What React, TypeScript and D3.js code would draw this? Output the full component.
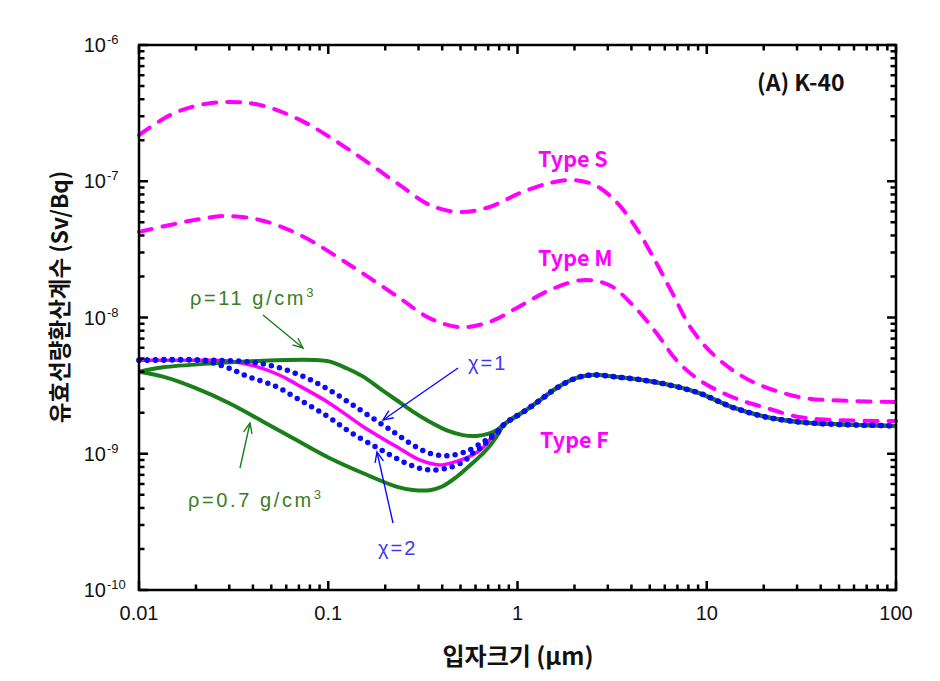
import React from "react";
import * as d3 from "d3";

// ---- Data (particle size µm, dose coefficient Sv/Bq) ----
const typeSX = [0.01, 0.0146, 0.021, 0.03, 0.0435, 0.0708, 0.13, 0.238, 0.343, 0.494, 0.711, 1.03, 1.48, 1.95, 2.55, 3.25, 4.14, 5.42, 6.58, 8.38, 11.2, 16.7, 30.7, 56.5, 100];
const typeSY = [2.18e-7, 3.06e-7, 3.63e-7, 3.82e-7, 3.63e-7, 2.82e-7, 1.69e-7, 9.4e-8, 6.7e-8, 5.94e-8, 6.47e-8, 8.2e-8, 9.7e-8, 1.02e-7, 9.4e-8, 7.3e-8, 4.77e-8, 2.51e-8, 1.51e-8, 8.1e-9, 5.13e-9, 3.48e-9, 2.61e-9, 2.44e-9, 2.4e-9];

const typeMX = [0.01, 0.0146, 0.021, 0.0284, 0.0435, 0.0708, 0.13, 0.238, 0.343, 0.494, 0.711, 1.03, 1.48, 2.2, 3.05, 4.05, 5.42, 6.9, 9.12, 13.6, 20.6, 30.8, 45.9, 100];
const typeMY = [4.25e-8, 4.78e-8, 5.28e-8, 5.56e-8, 5.2e-8, 4.04e-8, 2.43e-8, 1.39e-8, 9.9e-9, 8.5e-9, 9.27e-9, 1.21e-8, 1.59e-8, 1.88e-8, 1.73e-8, 1.24e-8, 7.7e-9, 4.88e-9, 3.48e-9, 2.61e-9, 2.17e-9, 1.86e-9, 1.77e-9, 1.74e-9];

// common part shared by Type F and its variants (large particles)
const tailX = [0.853, 1.11, 1.36, 1.61, 2.05, 2.49, 3.33, 4.57, 6.34, 9.12, 13.6, 20.6, 30.8, 45.9, 70, 100];
const tailY = [1.65e-9, 2.09e-9, 2.56e-9, 3.04e-9, 3.6e-9, 3.79e-9, 3.66e-9, 3.48e-9, 3.2e-9, 2.79e-9, 2.2e-9, 1.86e-9, 1.71e-9, 1.65e-9, 1.62e-9, 1.6e-9];

const typeFX = [0.01, 0.02, 0.03, 0.041, 0.0555, 0.0679, 0.102, 0.153, 0.229, 0.304, 0.388, 0.476, 0.579, 0.653, 0.711, 0.783];
const typeFY = [4.85e-9, 4.85e-9, 4.8e-9, 4.4e-9, 3.77e-9, 3.24e-9, 2.34e-9, 1.58e-9, 1.13e-9, 9.0e-10, 8.27e-10, 8.8e-10, 9.8e-10, 1.1e-9, 1.26e-9, 1.49e-9];

const rho11X = [0.01, 0.0134, 0.0247, 0.0453, 0.083, 0.102, 0.125, 0.153, 0.187, 0.229, 0.28, 0.343, 0.42, 0.514, 0.605, 0.711, 0.783];
const rho11Y = [4.0e-9, 4.31e-9, 4.61e-9, 4.82e-9, 4.88e-9, 4.74e-9, 4.24e-9, 3.68e-9, 3.02e-9, 2.48e-9, 2.04e-9, 1.72e-9, 1.49e-9, 1.37e-9, 1.35e-9, 1.41e-9, 1.5e-9];

const rho07X = [0.01, 0.0134, 0.0201, 0.0302, 0.0453, 0.0679, 0.102, 0.153, 0.229, 0.28, 0.343, 0.4, 0.476, 0.579, 0.686, 0.774];
const rho07Y = [4.0e-9, 3.68e-9, 3.02e-9, 2.34e-9, 1.72e-9, 1.26e-9, 9.27e-10, 7.19e-10, 5.74e-10, 5.42e-10, 5.4e-10, 5.75e-10, 6.75e-10, 8.55e-10, 1.07e-9, 1.33e-9];

const chi1X = [0.01, 0.025, 0.0385, 0.0523, 0.0723, 0.098, 0.135, 0.183, 0.229, 0.28, 0.343, 0.428, 0.536, 0.646, 0.711, 0.783];
const chi1Y = [4.85e-9, 4.85e-9, 4.71e-9, 4.36e-9, 3.74e-9, 3.02e-9, 2.28e-9, 1.72e-9, 1.4e-9, 1.16e-9, 1.01e-9, 9.68e-10, 1.04e-9, 1.2e-9, 1.31e-9, 1.45e-9];

const chi2X = [0.01, 0.021, 0.0284, 0.0378, 0.0523, 0.0708, 0.098, 0.132, 0.183, 0.229, 0.28, 0.343, 0.428, 0.525, 0.579, 0.646, 0.711, 0.783];
const chi2Y = [4.85e-9, 4.85e-9, 4.36e-9, 3.68e-9, 3.14e-9, 2.48e-9, 1.9e-9, 1.43e-9, 1.1e-9, 9.27e-10, 8.13e-10, 7.6e-10, 7.86e-10, 8.85e-10, 1.01e-9, 1.12e-9, 1.28e-9, 1.43e-9];

const xTicks = [0.01, 0.1, 1, 10, 100];
const xTickLabels = ["0.01", "0.1", "1", "10", "100"];
const yTicks = [1e-10, 1e-9, 1e-8, 1e-7, 1e-6];
const yTickExps = ["-10", "-9", "-8", "-7", "-6"];

const W = 940, H = 681;
const L = 139, R = 896, T = 45, B = 590;

const x = d3.scaleLog().domain([0.01, 100]).range([L, R]);
const y = d3.scaleLog().domain([1e-10, 1e-6]).range([B, T]);

const zip = (xs: number[], ys: number[]) => xs.map((v, i) => [v, ys[i]] as [number, number]);
const line = d3.line<[number, number]>().x(d => x(d[0])).y(d => y(d[1])).curve(d3.curveCatmullRom.alpha(0.5));

const MAGENTA = "#ff00ff";
const GREEN = "#1a7f1a";
const BLUE = "#0a0aff";
const GTEXT = "#3a7d1e";
const BTEXT = "#3a3af0";

function Arrow({ x1, y1, x2, y2, color }: { x1: number; y1: number; x2: number; y2: number; color: string }) {
  const a = Math.atan2(y2 - y1, x2 - x1);
  const len = 11, sp = 0.4;
  const p1 = [x2 - len * Math.cos(a - sp), y2 - len * Math.sin(a - sp)];
  const p2 = [x2 - len * Math.cos(a + sp), y2 - len * Math.sin(a + sp)];
  return (
    <g stroke={color} strokeWidth={1.4} fill="none">
      <line x1={x1} y1={y1} x2={x2} y2={y2} />
      <polyline points={`${p1[0]},${p1[1]} ${x2},${y2} ${p2[0]},${p2[1]}`} />
    </g>
  );
}

export default function App() {
  const minorX: number[] = [];
  for (let e = -2; e < 2; e++) for (let k = 2; k <= 9; k++) minorX.push(k * Math.pow(10, e));
  const minorY: number[] = [];
  for (let e = -10; e < -6; e++) for (let k = 2; k <= 9; k++) minorY.push(k * Math.pow(10, e));

  const sans = "'Liberation Sans', Arial, sans-serif";
  const kor = "'Noto Sans CJK KR', 'Noto Sans', sans-serif";

  const typeF = zip(typeFX, typeFY).concat(zip(tailX, tailY));
  const rho11 = zip(rho11X, rho11Y).concat(zip(tailX, tailY));
  const rho07 = zip(rho07X, rho07Y).concat(zip(tailX, tailY));
  const chi1 = zip(chi1X, chi1Y).concat(zip(tailX, tailY));
  const chi2 = zip(chi2X, chi2Y).concat(zip(tailX, tailY));

  return (
    <svg width={W} height={H} style={{ position: "absolute", left: 0, top: 0, background: "#fff" }}>
      <rect x={0} y={0} width={W} height={H} fill="#fff" />
      {/* curves */}
      <g fill="none">
        <path d={line(zip(typeSX, typeSY)) || ""} stroke={MAGENTA} strokeWidth={4} strokeDasharray="13 11" strokeLinecap="round" />
        <path d={line(zip(typeMX, typeMY)) || ""} stroke={MAGENTA} strokeWidth={4} strokeDasharray="13 11" strokeLinecap="round" />
        <path d={line(typeF) || ""} stroke={MAGENTA} strokeWidth={3.5} />
        <path d={line(rho11) || ""} stroke={GREEN} strokeWidth={4} />
        <path d={line(rho07) || ""} stroke={GREEN} strokeWidth={4} />
        <path d={line(chi1) || ""} stroke={BLUE} strokeWidth={5.5} strokeDasharray="0 8.3" strokeLinecap="round" />
        <path d={line(chi2) || ""} stroke={BLUE} strokeWidth={5.5} strokeDasharray="0 8.3" strokeLinecap="round" />
      </g>

      {/* frame and ticks */}
      <g stroke="#000" strokeWidth={2.5}>
        <rect x={L} y={T} width={R - L} height={B - T} fill="none" />
        {xTicks.map(t => (
          <g key={"xm" + t}>
            <line x1={x(t)} x2={x(t)} y1={B} y2={B - 9} />
            <line x1={x(t)} x2={x(t)} y1={T} y2={T + 9} />
          </g>
        ))}
        {minorX.map(t => (
          <g key={"xn" + t}>
            <line x1={x(t)} x2={x(t)} y1={B} y2={B - 5.5} />
            <line x1={x(t)} x2={x(t)} y1={T} y2={T + 5.5} />
          </g>
        ))}
        {yTicks.map(t => (
          <g key={"ym" + t}>
            <line x1={L} x2={L + 9} y1={y(t)} y2={y(t)} />
            <line x1={R} x2={R - 9} y1={y(t)} y2={y(t)} />
          </g>
        ))}
        {minorY.map(t => (
          <g key={"yn" + t}>
            <line x1={L} x2={L + 5.5} y1={y(t)} y2={y(t)} />
            <line x1={R} x2={R - 5.5} y1={y(t)} y2={y(t)} />
          </g>
        ))}
      </g>

      {/* tick labels */}
      <g fontFamily={sans} fontSize={20} fill="#111">
        {xTicks.map((t, i) => (
          <text key={"xl" + t} x={x(t)} y={620} textAnchor="middle">{xTickLabels[i]}</text>
        ))}
        {yTicks.map((t, i) => (
          <text key={"yl" + t} x={106} y={y(t) + 7} textAnchor="end">10</text>
        ))}
        {yTicks.map((t, i) => (
          <text key={"ye" + t} x={107} y={y(t) - 1} fontSize={13}>{yTickExps[i]}</text>
        ))}
      </g>

      {/* axis titles */}
      <text x={518} y={665} textAnchor="middle" fontFamily={kor} fontWeight="bold" fontSize={24} fill="#111">입자크기 (μm)</text>
      <text transform={`translate(68,297) rotate(-90)`} textAnchor="middle" fontFamily={kor} fontWeight="bold" fontSize={22.5} fill="#111">유효선량환산계수 (Sv/Bq)</text>

      {/* panel title */}
      <text x={757} y={91} fontFamily={kor} fontWeight="bold" fontSize={23} fill="#111">(A) K-40</text>

      {/* series labels */}
      <g fontFamily={kor} fontWeight="bold" fontSize={21.5} fill={MAGENTA}>
        <text x={538} y={167}>Type S</text>
        <text x={538} y={266}>Type M</text>
        <text x={540} y={448}>Type F</text>
      </g>

      {/* annotations */}
      <g fontFamily={sans} fontSize={20} fill={GTEXT} letterSpacing={2.6}>
        <text x={190} y={305}>ρ=11 g/cm<tspan dy={-8} fontSize={13}>3</tspan></text>
        <text x={188} y={507}>ρ=0.7 g/cm<tspan dy={-8} fontSize={13}>3</tspan></text>
      </g>
      <g fontFamily={sans} fontSize={20} fill={BTEXT} letterSpacing={2}>
        <text x={468} y={370}>χ=1</text>
        <text x={378} y={555}>χ=2</text>
      </g>
      <Arrow x1={263} y1={315} x2={303} y2={348} color={GREEN} />
      <Arrow x1={240} y1={468} x2={250} y2={423} color={GREEN} />
      <Arrow x1={458} y1={368} x2={383} y2={420} color={BLUE} />
      <Arrow x1={393} y1={523} x2={377} y2={452} color={BLUE} />
    </svg>
  );
}
